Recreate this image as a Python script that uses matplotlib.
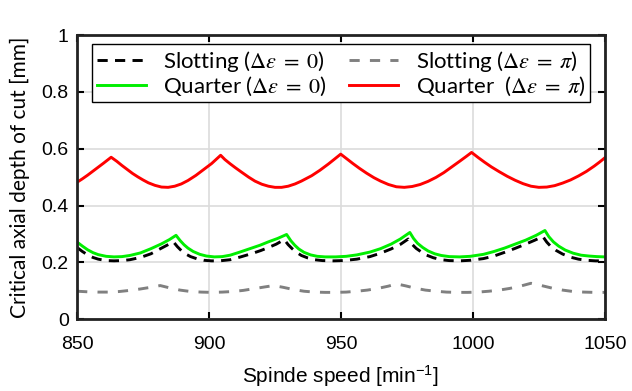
import numpy as np
import matplotlib
matplotlib.use("Agg")
import matplotlib.pyplot as plt

plt.rcParams['mathtext.fontset'] = 'stix'

# values
red_x = [850, 852, 854, 856, 858, 860, 862.9,
         865, 867, 869, 871, 873, 875, 877, 879.5, 882, 884.5, 887, 889.5, 892, 895, 898, 901, 904.4,
         906, 908, 910, 912.4, 915, 917.4, 920, 922.5, 925, 927.5, 930, 932.6, 935, 938.9, 942, 945.2, 947.5, 949.9,
         952, 954.5, 957, 959.7, 962.5, 965, 968, 971, 974, 977, 980, 983, 986, 989, 992, 995, 997.5, 999.5,
         1002, 1004.5, 1007, 1010, 1013, 1016, 1019, 1022, 1025, 1028, 1031, 1034, 1037, 1040, 1043, 1046, 1048, 1050]
red_y = [0.482, 0.494, 0.507, 0.521, 0.535, 0.549, 0.570,
         0.556, 0.541, 0.527, 0.513, 0.501, 0.490, 0.480, 0.471, 0.465, 0.464, 0.468, 0.476, 0.488, 0.506, 0.527, 0.548, 0.577,
         0.562, 0.547, 0.533, 0.517, 0.500, 0.486, 0.475, 0.468, 0.464, 0.464, 0.468, 0.476, 0.486, 0.505, 0.524, 0.546, 0.563, 0.581,
         0.566, 0.548, 0.531, 0.514, 0.498, 0.486, 0.474, 0.466, 0.464, 0.467, 0.474, 0.485, 0.499, 0.516, 0.536, 0.556, 0.573, 0.587,
         0.569, 0.552, 0.536, 0.519, 0.503, 0.489, 0.477, 0.468, 0.464, 0.465, 0.470, 0.479, 0.490, 0.504, 0.520, 0.539, 0.553, 0.568]

green_x = [850, 852, 854, 856, 858, 861, 864, 867, 870, 874, 878, 882, 885, 887.5,
           889, 890.5, 892, 894, 896.5, 899, 902, 905, 908, 911.7, 915.5, 919.3, 922.5, 926, 929.4,
           931, 932.5, 934, 936, 938.5, 941, 944, 948, 952, 956, 961, 965, 969, 972.5, 976.1,
           977.5, 979, 981, 983, 985.5, 988, 991, 995, 999, 1004, 1008, 1012, 1016, 1020, 1024, 1027.3,
           1028.8, 1030.5, 1032.5, 1035, 1038, 1041, 1044, 1047, 1050]
green_y = [0.271, 0.257, 0.244, 0.234, 0.227, 0.221, 0.219, 0.220, 0.224, 0.233, 0.248, 0.265, 0.280, 0.295,
           0.277, 0.262, 0.250, 0.238, 0.228, 0.222, 0.219, 0.220, 0.225, 0.236, 0.248, 0.260, 0.272, 0.284, 0.298,
           0.276, 0.260, 0.247, 0.235, 0.226, 0.221, 0.219, 0.219, 0.221, 0.226, 0.236, 0.248, 0.264, 0.282, 0.305,
           0.284, 0.267, 0.252, 0.240, 0.230, 0.224, 0.220, 0.219, 0.221, 0.228, 0.238, 0.250, 0.264, 0.278, 0.295, 0.312,
           0.290, 0.272, 0.257, 0.243, 0.232, 0.225, 0.222, 0.220, 0.219]

black_x = [850, 852, 854, 856, 858, 861, 864, 867, 870, 874, 878, 882, 886.5,
           888, 889.5, 891, 893, 895.5, 898, 901, 904, 908, 912, 916, 919.5, 922, 925.5, 928.5,
           930, 931.5, 933, 935, 937.5, 940, 943, 947, 951, 956, 961, 965, 969, 972.5, 975.5,
           977, 978.5, 980.5, 982.5, 985, 988, 991, 995, 999, 1004, 1008, 1012, 1016, 1020, 1023.5, 1026.5,
           1028, 1029.5, 1031.5, 1034, 1037, 1040, 1043, 1046.5, 1050]
black_y = [0.252, 0.238, 0.226, 0.217, 0.211, 0.206, 0.205, 0.206, 0.209, 0.217, 0.230, 0.250, 0.272,
           0.255, 0.241, 0.230, 0.220, 0.212, 0.207, 0.205, 0.205, 0.209, 0.219, 0.230, 0.241, 0.250, 0.264, 0.280,
           0.262, 0.248, 0.236, 0.224, 0.215, 0.209, 0.206, 0.205, 0.206, 0.211, 0.220, 0.232, 0.247, 0.263, 0.282,
           0.263, 0.249, 0.236, 0.225, 0.216, 0.209, 0.206, 0.205, 0.207, 0.213, 0.222, 0.235, 0.249, 0.264, 0.278, 0.291,
           0.271, 0.256, 0.242, 0.229, 0.218, 0.211, 0.207, 0.205, 0.205]

gray_x = [850, 854, 858, 862, 866, 870, 874, 878, 881.5, 885, 889, 893, 897, 901, 905, 909, 913, 917, 921, 924.5,
          928, 932, 936, 940, 944, 948, 952, 956, 960, 964, 968, 971, 974.5, 978, 982, 986, 990, 994, 998,
          1002, 1006, 1010, 1014, 1018, 1022, 1026, 1030, 1034, 1038, 1042, 1046, 1050]
gray_y = [0.098, 0.096, 0.095, 0.095, 0.097, 0.101, 0.106, 0.112, 0.118, 0.110, 0.102, 0.097, 0.095, 0.094, 0.095,
          0.097, 0.101, 0.107, 0.113, 0.118, 0.112, 0.104, 0.098, 0.095, 0.094, 0.094, 0.095, 0.098, 0.102, 0.108,
          0.116, 0.124, 0.117, 0.109, 0.102, 0.098, 0.095, 0.094, 0.094, 0.095, 0.098, 0.102, 0.108, 0.116, 0.126,
          0.118, 0.109, 0.102, 0.097, 0.095, 0.094, 0.094]

labels = ['Slotting ($\\Delta\\varepsilon\\;=\\;0$)', 'Quarter ($\\Delta\\varepsilon\\;=\\;0$)',
          'Slotting ($\\Delta\\varepsilon\\;=\\;\\pi$)', 'Quarter  ($\\Delta\\varepsilon\\;=\\;\\pi$)']

fig = plt.figure(figsize=(6.32, 3.91), dpi=100)
ax = fig.add_axes([0.122, 0.184, 0.835, 0.726])

l1, = ax.plot(black_x, black_y, '--', color='k', lw=2.1, dashes=(3.5, 2.5))
l2, = ax.plot(green_x, green_y, '-', color='#00ee00', lw=2.1)
l3, = ax.plot(gray_x, gray_y, '--', color='#808080', lw=2.1, dashes=(3.5, 3.5))
l4, = ax.plot(red_x, red_y, '-', color='#ff0000', lw=2.1)

ax.set_xlim(850, 1050)
ax.set_ylim(0, 1)
ax.set_xticks([850, 900, 950, 1000, 1050])
ax.set_yticks([0, 0.2, 0.4, 0.6, 0.8, 1])
ax.set_yticklabels(['0', '0.2', '0.4', '0.6', '0.8', '1'])
ax.grid(True, color='#dcdcdc', lw=1.2)
ax.set_axisbelow(True)
ax.tick_params(direction='in', top=True, right=True, length=5, width=1.5, labelsize=14)
ax.tick_params(axis='y', pad=6)
ax.tick_params(axis='x', pad=12)
for lab in ax.get_xticklabels() + ax.get_yticklabels():
    lab.set_family('Liberation Sans')
for s in ax.spines.values():
    s.set_linewidth(2)
    s.set_color('#222222')

ax.set_xlabel('Spinde speed [min$^{\\mathregular{-1}}$]', fontsize=15,
              family='Liberation Sans', labelpad=8)
ax.set_ylabel('Critical axial depth of cut [mm]', fontsize=15, family='Lato', labelpad=8)

leg = ax.legend([l1, l2, l3, l4], labels,
                ncol=2, loc='upper center', bbox_to_anchor=(0.5, 1.0),
                prop={'family': 'Lato', 'size': 16}, frameon=True, fancybox=False,
                handlelength=2.2, columnspacing=1.0, borderpad=0.2, labelspacing=0.05,
                handletextpad=0.8, borderaxespad=0.4)
leg.get_frame().set_edgecolor('k')
leg.get_frame().set_linewidth(1)
leg.get_frame().set_alpha(1)

fig.savefig('out.png', dpi=100)
